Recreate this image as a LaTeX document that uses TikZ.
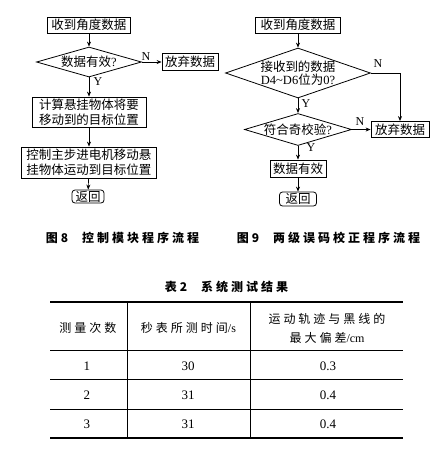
\documentclass[tikz,border=0pt]{standalone}
\usepackage{fontspec}
\setmainfont{Liberation Serif}
\newfontfamily\cjk{Noto Sans CJK SC}
\newfontfamily\cjksp[LetterSpace=25]{Noto Sans CJK SC}
\usetikzlibrary{shapes.geometric,arrows.meta}
\pgfdeclarelayer{bg}
\pgfsetlayers{bg,main}
\newcommand{\latn}[1]{{\rmfamily #1}}
\tikzset{
    every node/.style={inner sep=0mm, font=\cjk\fontsize{12.5}{15}\selectfont},
    box/.style={rectangle, draw, line width=.8pt, minimum height=16pt, inner xsep=3pt, align=center},
    ret/.style={box, rounded corners=3pt, minimum height=13pt},
    dia/.style={diamond, draw, line width=.8pt, shape aspect=3.3, inner sep=-1.5pt, align=center},
    yn/.style={font=\rmfamily\fontsize{12}{12}\selectfont},
    figcap/.style={font=\cjksp\bfseries\fontsize{12}{12}\selectfont},
    cell/.style={font=\cjksp\fontsize{12}{19}\selectfont, align=center},
    num/.style={font=\rmfamily\fontsize{13}{15}\selectfont},
    flow/.style={line width=.7pt, -{Stealth[length=5pt,width=4pt]}}
}

\begin{document}
\begin{tikzpicture}
        \useasboundingbox (0pt,0pt) rectangle (441pt,-451pt);
        % control module
        \node (a0) [box, minimum width=83pt] at (89pt, -25pt) {收到角度数据};
        \node (a1) [dia, minimum width=105pt, minimum height=30pt] at (89pt, -62pt) {数据有效\latn{?}};
        \node (a2) [box, minimum width=56pt, minimum height=17pt] at (190pt, -62pt) {放弃数据};
        \node (a3) [box, minimum width=114pt, minimum height=30pt] at (89pt, -112pt) {计算悬挂物体将要\\移动到的目标位置};
        \node (a4) [box, minimum width=135pt, minimum height=31pt] at (89pt, -162.5pt) {控制主步进电机移动悬\\挂物体运动到目标位置};
        \node (a5) [ret, minimum width=32pt] at (88pt, -196.5pt) {返回};
        \node (n1) [yn] at (146pt, -57pt) {N};
        \node (y1) [yn] at (98pt, -82pt) {Y};
        % two-level check
        \node (b0) [box, minimum width=85pt] at (298pt, -25pt) {收到角度数据};
        \node (b1) [dia, inner sep=-3pt, minimum width=145pt, minimum height=50pt, font=\cjk\fontsize{12.5}{13}\selectfont] at (298pt, -73pt) {接收到的数据\\\latn{D4\textasciitilde D6}位为\latn{0?}};
        \node (b2) [dia, minimum width=107pt, minimum height=32pt] at (298pt, -129.5pt) {符合奇校验\latn{?}};
        \node (b3) [box, minimum width=58pt] at (400pt, -129.5pt) {放弃数据};
        \node (b4) [box, minimum width=55pt, minimum height=17pt] at (298pt, -168.5pt) {数据有效};
        \node (b5) [ret, minimum width=37pt, minimum height=14pt] at (298pt, -199pt) {返回};
        \node (n2) [yn] at (378pt, -64pt) {N};
        \node (y2) [yn] at (306pt, -104pt) {Y};
        \node (n3) [yn] at (360pt, -122pt) {N};
        \node (y3) [yn] at (311pt, -148pt) {Y};
        % captions
        \node (f8) [figcap] at (122.5pt, -238pt) {图\hspace{3pt}8\hspace{14pt}控制模块程序流程};
        \node (f9) [figcap] at (328.5pt, -238pt) {图\hspace{3pt}9\hspace{14pt}两级误码校正程序流程};
        \node (t2) [figcap] at (226.5pt, -287pt) {表\hspace{3pt}2\hspace{14pt}系统测试结果};
        % table
        \draw [line width=1.3pt] (50pt,-302pt) -- (403pt,-302pt);
        \draw [line width=1.3pt] (50pt,-438pt) -- (403pt,-438pt);
        \draw [line width=.6pt] (50pt,-350pt) -- (403pt,-350pt);
        \draw [line width=.6pt] (50pt,-379pt) -- (403pt,-379pt);
        \draw [line width=.6pt] (50pt,-409pt) -- (403pt,-409pt);
        \draw [line width=.6pt] (127pt,-302pt) -- (127pt,-438pt);
        \draw [line width=.6pt] (250pt,-302pt) -- (250pt,-438pt);
        \node (h1) [cell] at (88pt, -328pt) {测量次数};
        \node (h2) [cell] at (188.5pt, -328pt) {秒表所测时间\latn{/s}};
        \node (h3) [cell] at (327pt, -328pt) {运动轨迹与黑线的\\最大偏差\latn{/cm}};
        \node (c11) [num] at (87pt, -366pt) {1};
        \node (c12) [num] at (188pt, -366pt) {30};
        \node (c13) [num] at (328pt, -366pt) {0.3};
        \node (c21) [num] at (87pt, -395pt) {2};
        \node (c22) [num] at (188pt, -395pt) {31};
        \node (c23) [num] at (328pt, -395pt) {0.4};
        \node (c31) [num] at (87pt, -424pt) {3};
        \node (c32) [num] at (188pt, -424pt) {31};
        \node (c33) [num] at (328pt, -424pt) {0.4};
        \begin{pgfonlayer}{bg}
                \draw (a0) edge [flow] (a1);
                \draw (a1) edge [flow] (a2);
                \draw (a1) edge [flow] (a3);
                \draw (a3) edge [flow] (a4);
                \draw (a4) edge [flow] (a5);
                \draw (b0) edge [flow] (b1);
                \draw (b1) edge [flow] (b2);
                \draw [flow] (b1.east) -| (b3.north);
                \draw (b2) edge [flow] (b3);
                \draw (b2) edge [flow] (b4);
                \draw (b4) edge [flow] (b5);
        \end{pgfonlayer}
\end{tikzpicture}
\end{document}
